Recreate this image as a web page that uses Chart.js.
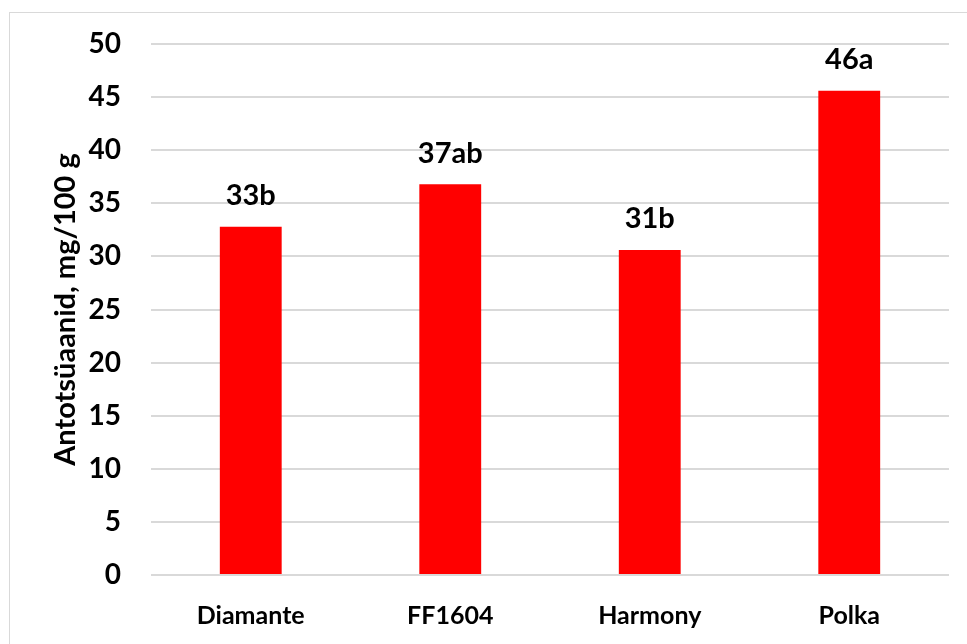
<!DOCTYPE html>
<html>
<head>
<meta charset="utf-8">
<script src="https://cdn.jsdelivr.net/npm/chart.js@4"></script>
<style>
  html, body { margin: 0; padding: 0; background: #ffffff; }
  body { width: 967px; height: 644px; position: relative; overflow: hidden; }
  #frame { position: absolute; left: 9px; top: 12px; width: 980px; height: 660px; border: 1px solid #d9d9d9; }
  #wrap { position: absolute; left: 0; top: 0; width: 967px; height: 644px; }
</style>
</head>
<body>
<div id="frame"></div>
<div id="wrap"><canvas id="chart"></canvas></div>
<script>
// ==========================================================================
// CHART DATA
// ==========================================================================
const varieties = ['Diamante', 'FF1604', 'Harmony', 'Polka'];
const anthocyanins = [32.8, 36.8, 30.6, 45.6];
const groupLabels = ['33b', '37ab', '31b', '46a'];
const yTitle = 'Antotsüaanid, mg/100 g';

const FONT = 'Lato, "Open Sans", "Liberation Sans", sans-serif';

// Letters above each bar
const barLabels = {
    id: 'barLabels',
    afterDatasetsDraw(chart) {
        const ctx = chart.ctx;
        const meta = chart.getDatasetMeta(0);
        ctx.save();
        ctx.font = 'bold 29px ' + FONT;
        ctx.fillStyle = '#000000';
        ctx.textAlign = 'center';
        ctx.textBaseline = 'middle';
        meta.data.forEach((bar, i) => {
            ctx.fillText(groupLabels[i], bar.x, bar.y - 31);
        });
        ctx.restore();
    }
};

new Chart(document.getElementById('chart').getContext('2d'), {
    type: 'bar',
    data: {
        labels: varieties,
        datasets: [{
            data: anthocyanins,
            backgroundColor: '#ff0000',
            borderWidth: 0,
            barPercentage: 0.31,
            categoryPercentage: 1.0
        }]
    },
    options: {
        responsive: true,
        maintainAspectRatio: false,
        animation: false,
        layout: { padding: { left: 45, top: 44, right: 18, bottom: 0 } },
        plugins: {
            legend: { display: false },
            tooltip: { enabled: false }
        },
        scales: {
            x: {
                grid: { display: false, drawTicks: false },
                border: { display: false },
                ticks: {
                    color: '#000000',
                    padding: 26,
                    font: { family: FONT, size: 25, weight: 'bold' }
                },
                afterFit(scale) { scale.height = 69; }
            },
            y: {
                min: 0,
                max: 50,
                grid: { color: '#d9d9d9', lineWidth: 2, drawTicks: false },
                border: { display: false },
                ticks: {
                    stepSize: 5,
                    color: '#000000',
                    padding: 30,
                    font: { family: FONT, size: 28, weight: 'bold' }
                },
                title: {
                    display: true,
                    text: yTitle,
                    color: '#000000',
                    padding: { top: 3, bottom: 0 },
                    font: { family: FONT, size: 29, weight: 'bold' }
                },
                afterFit(scale) {
                    scale.width = 106;
                    // tick padding should not push the plot area down
                    scale.paddingTop = 0;
                    scale.paddingBottom = 0;
                }
            }
        }
    },
    plugins: [barLabels]
});
</script>
</body>
</html>
